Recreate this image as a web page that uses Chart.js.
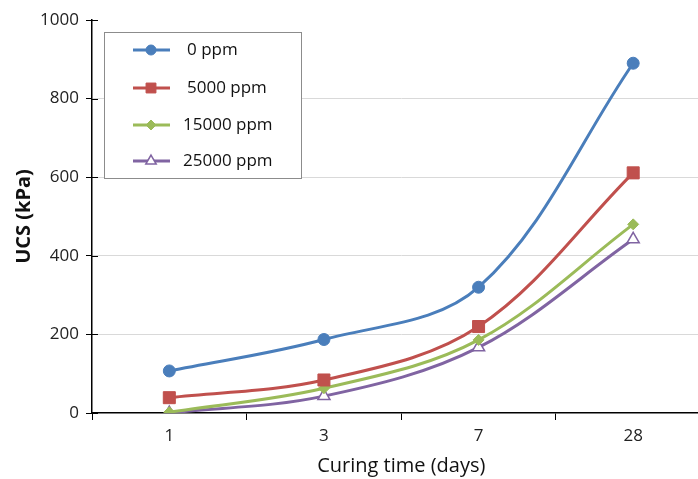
<!DOCTYPE html>
<html>
<head>
<meta charset="utf-8">
<script src="https://cdn.jsdelivr.net/npm/chart.js@4.4.1/dist/chart.umd.min.js"></script>
<style>
  html, body { margin: 0; padding: 0; background: #fff; overflow: hidden; }
  #wrap { width: 720px; height: 479px; }
</style>
</head>
<body>
<div id="wrap"><canvas id="ucsChart" width="720" height="479"></canvas></div>
<script>
// curing time categories and UCS (kPa) per additive dose
var days = ['1', '3', '7', '28'];
var ucs0 = [107, 187, 320, 890];
var ucs5000 = [39, 84, 220, 611];
var ucs15000 = [2, 63, 186, 480];
var ucs25000 = [0, 43, 167, 442];
var seriesNames = ['0 ppm', '5000 ppm', '15000 ppm', '25000 ppm'];
var yTicks = [0, 200, 400, 600, 800, 1000];

var FONT = "'Open Sans', 'Liberation Sans', sans-serif";

function series(name, data, color, style, radius, fill) {
  return {
    label: name,
    data: data,
    borderColor: color,
    backgroundColor: color,
    borderWidth: 3,
    tension: 0.35,
    pointStyle: style,
    pointRadius: radius,
    pointHoverRadius: radius,
    pointBackgroundColor: fill || color,
    pointBorderColor: color,
    pointBorderWidth: fill ? 1.5 : 1
  };
}

// y ticks cross the axis line: draw the inner half
var innerTicks = {
  id: 'innerTicks',
  afterDatasetsDraw: function(chart) {
    var ctx = chart.ctx, y = chart.scales.y;
    ctx.save();
    ctx.strokeStyle = '#000';
    ctx.lineWidth = 1;
    yTicks.forEach(function(v) {
      var py = Math.round(y.getPixelForValue(v)) + 0.5;
      ctx.beginPath();
      ctx.moveTo(y.right, py);
      ctx.lineTo(y.right + 6, py);
      ctx.stroke();
    });
    ctx.restore();
  }
};

// legend box inside the plot, top left
var boxLegend = {
  id: 'boxLegend',
  afterDraw: function(chart) {
    var ctx = chart.ctx;
    var rows = [50, 88, 125, 161];
    ctx.save();
    ctx.fillStyle = '#fff';
    ctx.fillRect(104.5, 32.5, 197, 146);
    ctx.strokeStyle = '#8c8c8c';
    ctx.lineWidth = 1;
    ctx.strokeRect(104.5, 32.5, 197, 146);
    chart.data.datasets.forEach(function(ds, i) {
      var y = rows[i];
      ctx.strokeStyle = ds.borderColor;
      ctx.lineWidth = 3;
      ctx.beginPath();
      ctx.moveTo(133, y);
      ctx.lineTo(170, y);
      ctx.stroke();
      ctx.fillStyle = ds.pointBackgroundColor;
      ctx.strokeStyle = ds.pointBorderColor;
      ctx.lineWidth = ds.pointBorderWidth;
      Chart.helpers.drawPoint(ctx, {
        pointStyle: ds.pointStyle,
        radius: ds.pointStyle === 'rect' ? 7 : (ds.pointStyle === 'triangle' ? 6 : 5),
        rotation: 0,
        borderWidth: ds.pointBorderWidth
      }, 151, y);
      ctx.fillStyle = '#111';
      ctx.font = '17px ' + FONT;
      ctx.textBaseline = 'middle';
      ctx.textAlign = 'left';
      ctx.fillText(ds.label, i < 2 ? 187 : 183, y);
    });
    ctx.restore();
  }
};

new Chart(document.getElementById('ucsChart'), {
  type: 'line',
  data: {
    labels: days,
    datasets: [
      series(seriesNames[0], ucs0, '#4a7ebb', 'circle', 6),
      series(seriesNames[1], ucs5000, '#c0504d', 'rect', 8.5),
      series(seriesNames[2], ucs15000, '#9bbb59', 'rectRot', 5.5),
      series(seriesNames[3], ucs25000, '#8064a2', 'triangle', 7, '#fff')
    ]
  },
  options: {
    responsive: false,
    animation: false,
    layout: { padding: { top: 20, right: 8, left: 0, bottom: 0 } },
    plugins: {
      legend: { display: false },
      tooltip: { enabled: false }
    },
    scales: {
      x: {
        type: 'category',
        offset: true,
        afterFit: function(scale) { scale.height = 66; },
        grid: {
          offset: true,
          drawOnChartArea: false,
          drawTicks: true,
          tickLength: 7,
          tickColor: '#000'
        },
        border: { color: '#000', width: 1.5 },
        ticks: {
          color: '#222',
          padding: 6,
          font: { family: FONT, size: 17 }
        },
        title: {
          display: true,
          text: 'Curing time (days)',
          color: '#111',
          padding: { top: 0, bottom: 1 },
          font: { family: FONT, size: 20 }
        }
      },
      y: {
        min: 0,
        max: 1000,
        afterFit: function(scale) { scale.width = 92; },
        afterBuildTicks: function(scale) {
          scale.ticks = yTicks.map(function(v) { return { value: v }; });
        },
        grid: {
          color: function(c) {
            return (c.tick && (c.tick.value === 0 || c.tick.value === 1000)) ? 'rgba(0,0,0,0)' : '#d9d9d9';
          },
          lineWidth: 1,
          tickLength: 6,
          tickColor: '#000'
        },
        border: { color: '#000', width: 1.5 },
        ticks: {
          color: '#222',
          padding: 7,
          font: { family: FONT, size: 17 },
          callback: function(v) { return String(v); }
        },
        title: {
          display: true,
          text: 'UCS (kPa)',
          color: '#111',
          padding: { top: 12, bottom: 0 },
          font: { family: FONT, size: 20, weight: 'bold' }
        }
      }
    }
  },
  plugins: [innerTicks, boxLegend]
});
</script>
</body>
</html>
